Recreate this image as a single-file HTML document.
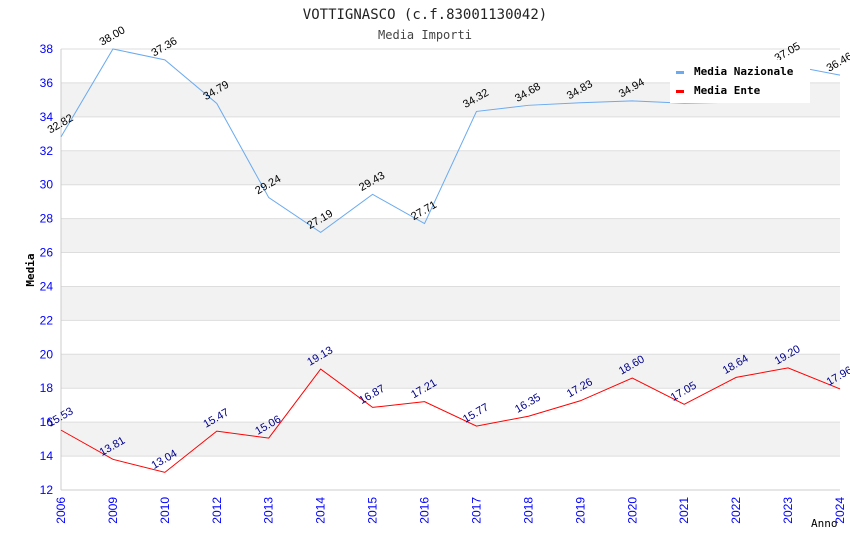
<!DOCTYPE html>
<html><head><meta charset="utf-8"><style>body{margin:0;background:#fff}svg{display:block}</style></head>
<body>
<svg id="c" width="850" height="550" xmlns="http://www.w3.org/2000/svg" font-family="'DejaVu Sans Mono','Liberation Mono',monospace">
<text x="425" y="19" text-anchor="middle" font-size="14" fill="#222">VOTTIGNASCO (c.f.83001130042)</text>
<text x="425" y="39" text-anchor="middle" font-size="12" fill="#444">Media Importi</text>
<g id="bands"></g><g id="axes"></g><g id="series"></g>
<text x="34" y="270" text-anchor="middle" font-size="11" font-weight="bold" fill="#000" transform="rotate(-90 34 270)">Media</text>
<text x="811" y="527" font-size="11" fill="#000">Anno</text>
<g>
<rect x="670" y="60" width="140" height="43" fill="#fff"/>
<rect x="676" y="71" width="8" height="3" fill="#6aaaf0"/>
<text x="694" y="75" font-size="11" font-weight="bold" fill="#000">Media Nazionale</text>
<rect x="676" y="90" width="8" height="3" fill="#f00"/>
<text x="694" y="94" font-size="11" font-weight="bold" fill="#000">Media Ente</text>
</g>
</svg>
<script>
const categories=["2006","2009","2010","2012","2013","2014","2015","2016","2017","2018","2019","2020","2021","2022","2023","2024"];
const nazionale=[32.82,38.00,37.36,34.79,29.24,27.19,29.43,27.71,34.32,34.68,34.83,34.94,34.80,34.87,37.05,36.46];
const ente=[15.53,13.81,13.04,15.47,15.06,19.13,16.87,17.21,15.77,16.35,17.26,18.60,17.05,18.64,19.20,17.96];
const yTicks=[12,14,16,18,20,22,24,26,28,30,32,34,36,38];
const NS="http://www.w3.org/2000/svg";
const L=61,R=840,T=49,B=490,yMin=12,yMax=38;
const x=i=>L+i*(R-L)/(categories.length-1);
const y=v=>B-(v-yMin)/(yMax-yMin)*(B-T);
function mk(p,tag,a,txt){const e=document.createElementNS(NS,tag);for(const k in a)e.setAttribute(k,a[k]);if(txt!==undefined)e.textContent=txt;document.getElementById(p).appendChild(e);return e;}
for(let i=0;i<yTicks.length-1;i++){
 if(i%2===1){const r=mk('bands','rect',{x:L,y:y(yTicks[i+1]),width:R-L,height:y(yTicks[i])-y(yTicks[i+1]),fill:'#f2f2f2'});
 
 }
}
yTicks.forEach(t=>{
 const g=mk('axes','line',{x1:L,x2:R,y1:y(t),y2:y(t),stroke:'#ddd'});
 
 
 const lb=mk('axes','text',{x:L-8,y:y(t)+4,'text-anchor':'end','font-size':12,fill:'#00f','font-family':'Liberation Sans,sans-serif'},t);
 
 
});
mk('axes','line',{x1:L,x2:L,y1:T,y2:B,stroke:'#ccc'});
mk('axes','line',{x1:L,x2:R,y1:B,y2:B,stroke:'#ccc'});
categories.forEach((c,i)=>{
 const t=mk('axes','text',{x:0,y:0,'text-anchor':'end','font-size':12,fill:'#00f','font-family':'Liberation Sans,sans-serif',transform:`translate(${x(i)+4},${B+7}) rotate(-90)`},c);
 
 
});
function series(vals,color,lblColor,name){
 const p=mk('series','polyline',{points:vals.map((v,i)=>x(i)+','+y(v)).join(' '),fill:'none',stroke:color,'stroke-width':1});
 
 
 vals.forEach((v,i)=>{
  const t=mk('series','text',{x:0,y:0,'text-anchor':'middle','font-size':11,fill:lblColor,'font-family':'Liberation Sans,sans-serif',transform:`translate(${x(i)+1},${y(v)-10}) rotate(-30)`},v.toFixed(2));
  
  
 });
}
series(nazionale,'#6aaaf0','#000','nazionale');
series(ente,'#f00','#00008b','ente');
</script>
</body></html>
